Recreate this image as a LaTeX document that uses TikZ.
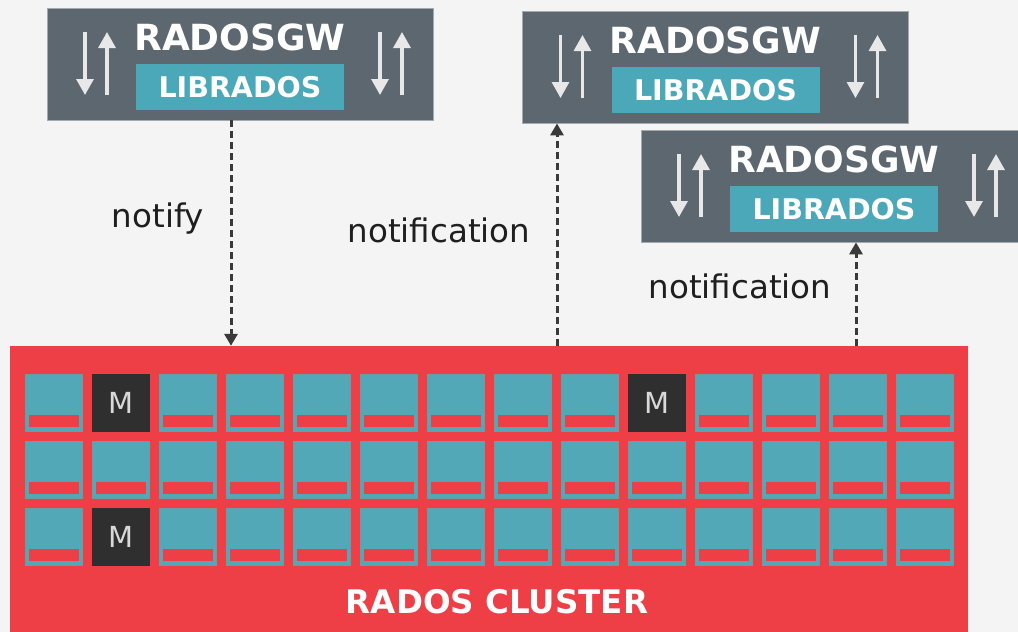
\documentclass[tikz,border=0pt]{standalone}
\usepackage{fontspec}
\setmainfont{DejaVu Sans}
\usetikzlibrary{arrows.meta}
\definecolor{pagebg}{HTML}{F5F4F5}
\definecolor{gwgray}{HTML}{5C6770}
\definecolor{gwedge}{HTML}{A4A9AD}
\definecolor{libteal}{HTML}{4AA8B8}
\definecolor{osdteal}{HTML}{52A8B6}
\definecolor{osdedge}{HTML}{6A9CA4}
\definecolor{clred}{HTML}{EE3F47}
\definecolor{monblack}{HTML}{2F2F2F}
\definecolor{inkdark}{HTML}{3A3A3A}
\definecolor{arrwhite}{HTML}{E8E8E8}

\tikzset{
  gwbox/.style={rectangle, fill=gwgray, draw=gwedge, line width=0.8pt,
    minimum width=386pt, minimum height=112pt, inner sep=0pt},
  gwtitle/.style={inner sep=0pt, text=white, font=\bfseries\fontsize{36}{40}\selectfont},
  libbar/.style={rectangle, fill=libteal, minimum width=208pt, minimum height=46pt,
    inner sep=0pt, text=white, font=\bfseries\fontsize{28.5}{32}\selectfont},
  gwarrow/.style={draw=arrwhite, line width=3.2pt,
    -{Triangle[length=16pt,width=17pt]}, arrwhite},
  cluster/.style={rectangle, fill=clred, minimum width=958pt, minimum height=292pt,
    inner sep=0pt},
  osd/.style={rectangle, fill=osdteal, draw=osdedge, line width=1.4pt,
    minimum width=57pt, minimum height=57pt, inner sep=0pt},
  osdbar/.style={rectangle, fill=clred, minimum width=50pt, minimum height=12pt,
    inner sep=0pt},
  mon/.style={rectangle, fill=monblack, minimum width=58pt, minimum height=58pt,
    inner sep=0pt, text=white!85!black, font=\fontsize{29}{32}\selectfont},
  notif/.style={draw=inkdark, line width=3pt, dash pattern=on 7pt off 4pt,
    -{Triangle[length=12pt,width=13pt]}, inkdark},
  msglabel/.style={inner sep=0pt, text=black!88, font=\fontsize{32.5}{36}\selectfont},
}

% one gateway: RADOSGW box with its LIBRADOS bar and the in/out arrows
\newcommand\gateway[3]{%
  \node[gwbox] (#1) at (#2,#3) {};
  \node[gwtitle] (#1-title) at (#2,{#3-27}) {RADOSGW};
  \node[libbar] (#1-lib) at (#2,{#3+23}) {LIBRADOS};
  \draw[gwarrow] ({#2-155},{#3-32}) -- ({#2-155},{#3+31});
  \draw[gwarrow] ({#2-133},{#3+31}) -- ({#2-133},{#3-32});
  \draw[gwarrow] ({#2+140},{#3-32}) -- ({#2+140},{#3+31});
  \draw[gwarrow] ({#2+162},{#3+31}) -- ({#2+162},{#3-32});
}

\begin{document}
\begin{tikzpicture}[x=1pt,y=-1pt]
  \useasboundingbox (0,0) rectangle (1018,632);
  \fill[pagebg] (0,0) rectangle (1018,632);
  \clip (0,0) rectangle (1018,632);

  % gateways
  \gateway{gw1}{240}{64}
  \gateway{gw2}{715.5}{67}
  \gateway{gw3}{834}{186}

  % cluster with its OSDs and monitors
  \node[cluster] (cl) at (489,492) {};
  \foreach \c in {0,...,13}{
    \foreach \r in {0,1,2}{
      \node[osd] (osd-\c-\r) at ({54+67*\c},{403+67*\r}) {};
      \node[osdbar] (osdbar-\c-\r) at ({54+67*\c},{421+67*\r}) {};
    }
  }
  \node[mon] (mon1) at (osd-1-0) {M};
  \node[mon] (mon2) at (osd-9-0) {M};
  \node[mon] (mon3) at (osd-1-2) {M};
  \node[inner sep=0pt, text=white, font=\bfseries\fontsize{32.5}{36}\selectfont]
    (cltitle) at (497,602) {RADOS CLUSTER};

  % notify / notification messages
  \draw[notif] ([xshift=-9pt]gw1.south) -- ([xshift=-9pt]gw1.south |- cl.north);
  \draw[notif] ([xshift=-158.5pt]gw2.south |- cl.north) -- ([xshift=-158.5pt]gw2.south);
  \draw[notif] ([xshift=22pt]gw3.south |- cl.north) -- ([xshift=22pt]gw3.south);

  \node[msglabel] (lab1) at (158,219) {notify};
  \node[msglabel] (lab2) at (439,230) {notification};
  \node[msglabel] (lab3) at (740,286) {notification};
\end{tikzpicture}
\end{document}
